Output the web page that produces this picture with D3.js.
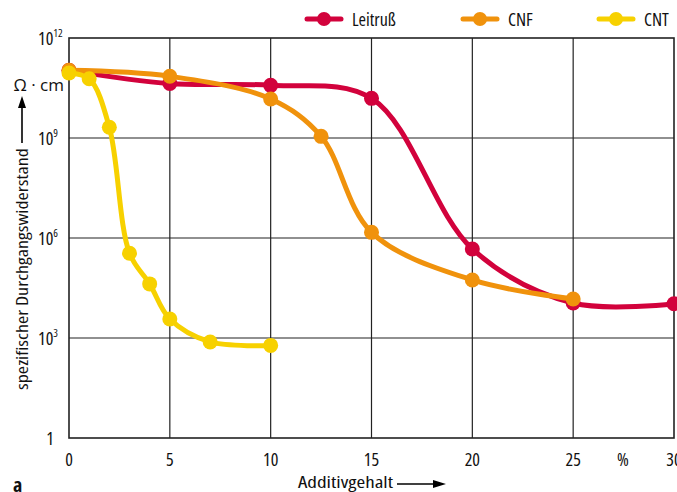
<!DOCTYPE html>
<html>
<head>
<meta charset="utf-8">
<script src="https://cdn.jsdelivr.net/npm/d3@7"></script>
<style>
body { margin: 0; background: #fff; }
text { font-family: "Open Sans", sans-serif; fill: #111; font-stretch: 82%; }
</style>
</head>
<body>
<div class="diagram"></div>
<script>
var width = 677, height = 492;

// data
var xTicks = [0, 5, 10, 15, 20, 25, 30];
var yTicks = [1, 1e3, 1e6, 1e9, 1e12];
var yTickExp = ['', '3', '6', '9', '12'];

var leitX = [0, 5, 10, 15, 20, 25, 30];
var leitY = [1.07e11, 4.3e10, 3.8e10, 1.55e10, 4.7e5, 1.12e4, 1.07e4];

var cnfX = [0, 5, 10, 12.5, 15, 20, 25];
var cnfY = [1.07e11, 7.1e10, 1.48e10, 1.12e9, 1.48e6, 5.5e4, 1.48e4];

var cntX = [0, 1, 2, 3, 4, 5, 7, 10];
var cntY = [8.9e10, 6.0e10, 2.1e9, 3.5e5, 4.2e4, 3.7e3, 760, 600];

var seriesNames = ['Leitruß', 'CNF', 'CNT'];
var seriesColors = ['#d2023c', '#f0920c', '#f7d100'];

var pLeft = 69, pRight = 674, pTop = 38, pBottom = 438;

var svg = d3.select('.diagram')
	.append('svg')
	.attr('width', width)
	.attr('height', height);

var x = d3.scaleLinear().domain([0, 30]).range([pLeft, pRight]);
var y = d3.scaleLog().domain([1, 1e12]).range([pBottom, pTop]);

// grid
var grid = svg.append('g').attr('class', 'grid');
grid.selectAll('.vline')
	.data(xTicks.slice(1, -1))
	.enter().append('line')
	.attr('x1', function(d) { return x(d); })
	.attr('x2', function(d) { return x(d); })
	.attr('y1', pTop).attr('y2', pBottom)
	.attr('stroke', '#222').attr('stroke-width', 1.2);
grid.selectAll('.hline')
	.data(yTicks.slice(1, -1))
	.enter().append('line')
	.attr('y1', function(d) { return y(d); })
	.attr('y2', function(d) { return y(d); })
	.attr('x1', pLeft).attr('x2', pRight)
	.attr('stroke', '#222').attr('stroke-width', 1.2);
svg.append('rect')
	.attr('x', pLeft).attr('y', pTop)
	.attr('width', pRight - pLeft).attr('height', pBottom - pTop)
	.attr('fill', 'none').attr('stroke', '#222').attr('stroke-width', 1.6);

// x tick labels
svg.append('g').selectAll('text')
	.data(xTicks)
	.enter().append('text')
	.attr('x', function(d) { return x(d); })
	.attr('y', 466)
	.attr('text-anchor', 'middle')
	.attr('font-size', 18)
	.text(function(d) { return d; });
svg.append('text').attr('x', 623).attr('y', 466)
	.attr('text-anchor', 'middle').attr('font-size', 18).text('%');

// y tick labels
var yl = svg.append('g').selectAll('text')
	.data(yTicks)
	.enter().append('text')
	.attr('x', function(d, i) { return i === 0 ? 54 : 38; })
	.attr('y', function(d) { return y(d) + 7; })
	.attr('font-size', 18)
	.attr('text-anchor', function(d, i) { return i === 0 ? 'end' : 'start'; });
yl.append('tspan').text(function(d, i) { return i === 0 ? '1' : '10'; });
yl.append('tspan')
	.attr('font-size', 11)
	.attr('dy', -8)
	.text(function(d, i) { return yTickExp[i]; });

svg.append('text').attr('x', 64).attr('y', 91)
	.attr('text-anchor', 'end').attr('font-size', 17)
	.style('font-stretch', '95%').text('Ω · cm');

// y axis title + arrow
svg.append('text')
	.attr('transform', 'translate(28,390) rotate(-90)')
	.attr('font-size', 17)
	.attr('textLength', 242)
	.attr('lengthAdjust', 'spacingAndGlyphs')
	.text('spezifischer Durchgangswiderstand');
svg.append('line').attr('x1', 22).attr('x2', 22).attr('y1', 143).attr('y2', 104)
	.attr('stroke', '#000').attr('stroke-width', 1.6);
svg.append('path').attr('d', 'M22,96 L18,108 L26,108 Z').attr('fill', '#000');

// x axis title + arrow
svg.append('text').attr('x', 298).attr('y', 488)
	.attr('font-size', 17)
	.attr('textLength', 95)
	.attr('lengthAdjust', 'spacingAndGlyphs')
	.text('Additivgehalt');
svg.append('line').attr('x1', 397).attr('x2', 436).attr('y1', 484).attr('y2', 484)
	.attr('stroke', '#000').attr('stroke-width', 1.4);
svg.append('path').attr('d', 'M446,484 L433,480 L433,488 Z').attr('fill', '#000');

svg.append('text').attr('x', 13).attr('y', 492)
	.attr('font-size', 20).attr('font-weight', 'bold').text('a');

// series
var line = d3.line()
	.x(function(d) { return x(d[0]); })
	.y(function(d) { return y(d[1]); })
	.curve(d3.curveCatmullRom.alpha(0.5));

var allX = [leitX, cnfX, cntX], allY = [leitY, cnfY, cntY];
allX.forEach(function(xs, i) {
	var pts = xs.map(function(v, j) { return [v, allY[i][j]]; });
	var g = svg.append('g').attr('class', 'series');
	g.append('path')
		.attr('d', line(pts))
		.attr('fill', 'none')
		.attr('stroke', seriesColors[i])
		.attr('stroke-width', 5)
		.attr('stroke-linecap', 'round');
	g.selectAll('circle')
		.data(pts)
		.enter().append('circle')
		.attr('cx', function(d) { return x(d[0]); })
		.attr('cy', function(d) { return y(d[1]); })
		.attr('r', 7.5)
		.attr('fill', seriesColors[i]);
});

// legend
var legendX = [307, 463, 599];
var legend = svg.append('g').selectAll('g')
	.data(seriesNames)
	.enter().append('g')
	.attr('transform', function(d, i) { return 'translate(' + legendX[i] + ',19)'; });
legend.append('line')
	.attr('x1', 0).attr('x2', 34)
	.attr('stroke', function(d, i) { return seriesColors[i]; })
	.attr('stroke-width', 5)
	.attr('stroke-linecap', 'round');
legend.append('circle')
	.attr('cx', 17).attr('r', 7)
	.attr('fill', function(d, i) { return seriesColors[i]; });
legend.append('text')
	.attr('x', 45).attr('y', 7)
	.attr('font-size', 18)
	.text(function(d) { return d; });
</script>
</body>
</html>
